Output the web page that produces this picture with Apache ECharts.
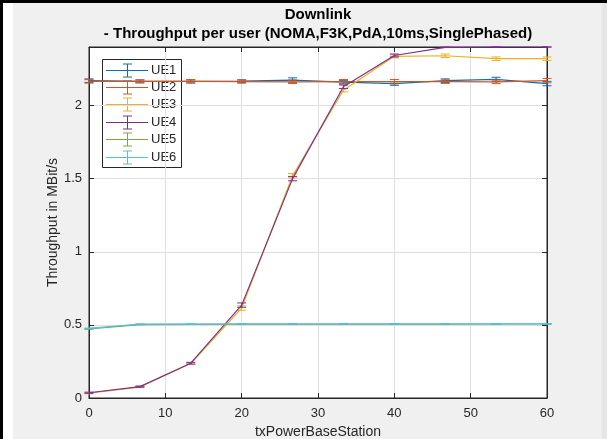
<!DOCTYPE html>
<html>
<head>
<meta charset="utf-8">
<script src="https://cdn.jsdelivr.net/npm/echarts@6/dist/echarts.min.js"></script>
<style>
  html, body { margin: 0; padding: 0; background: #ffffff; }
  #chart { width: 607px; height: 439px; }
</style>
</head>
<body>
<div id="chart"></div>
<script>
// Transmit power of the base station (x axis samples)
const txPower = [0, 6.667, 13.333, 20, 26.667, 33.333, 40, 46.667, 53.333, 60];

// Mean downlink throughput per user in MBit/s
const ue1 = [2.170, 2.165, 2.165, 2.166, 2.174, 2.160, 2.150, 2.170, 2.178, 2.150];
const ue2 = [2.165, 2.165, 2.165, 2.163, 2.162, 2.163, 2.163, 2.163, 2.162, 2.170];
const ue3 = [0.033, 0.075, 0.236, 0.615, 1.520, 2.105, 2.336, 2.340, 2.320, 2.320];
const ue4 = [0.036, 0.078, 0.238, 0.635, 1.500, 2.128, 2.342, 2.398, 2.400, 2.400];
const ue5 = [0.472, 0.502, 0.504, 0.505, 0.505, 0.505, 0.505, 0.505, 0.506, 0.506];
const ue6 = [0.476, 0.505, 0.505, 0.506, 0.506, 0.506, 0.506, 0.506, 0.507, 0.507];

// Half-width of the confidence interval drawn as error bars
const ue1Err = [0.012, 0.010, 0.010, 0.010, 0.015, 0.012, 0.012, 0.012, 0.015, 0.015];
const ue2Err = [0.012, 0.010, 0.012, 0.010, 0.012, 0.015, 0.015, 0.012, 0.012, 0.015];
const ue3Err = [0.004, 0.004, 0.006, 0.015, 0.015, 0.012, 0.010, 0.012, 0.012, 0.012];
const ue4Err = [0.004, 0.004, 0.006, 0.015, 0.015, 0.012, 0.010, 0.002, 0.000, 0.000];
const ue5Err = [0.002, 0.001, 0.001, 0.001, 0.001, 0.001, 0.001, 0.001, 0.001, 0.001];
const ue6Err = [0.002, 0.001, 0.001, 0.001, 0.001, 0.001, 0.001, 0.001, 0.001, 0.001];

const userNames = ['UE1', 'UE2', 'UE3', 'UE4', 'UE5', 'UE6'];
const userValues = [ue1, ue2, ue3, ue4, ue5, ue6];
const userErrors = [ue1Err, ue2Err, ue3Err, ue4Err, ue5Err, ue6Err];
const userColors = ['#0072BD', '#D95319', '#EDB120', '#7E2F8E', '#77AC30', '#4DBEEE'];

const titleLines = ['Downlink', '- Throughput per user (NOMA,F3K,PdA,10ms,SinglePhased)'];
const xAxisTitle = 'txPowerBaseStation';
const yAxisTitle = 'Throughput in MBit/s';

const FONT = '"Liberation Sans", Arial, Helvetica, sans-serif';
const AXIS_COLOR = '#262626';
const GRID_COLOR = '#dfdfdf';

const plot = { left: 89, right: 547, top: 47, bottom: 398 };

// Vertical error bar with caps at both ends
function errorBarRenderer(color) {
  return function (params, api) {
    const x = api.value(0);
    const lo = api.coord([x, api.value(1)]);
    const hi = api.coord([x, api.value(2)]);
    const cap = 4.5;
    const style = { stroke: color, lineWidth: 1 };
    return {
      type: 'group',
      children: [
        { type: 'line', shape: { x1: lo[0], y1: lo[1], x2: hi[0], y2: hi[1] }, style },
        { type: 'line', shape: { x1: lo[0] - cap, y1: lo[1], x2: lo[0] + cap, y2: lo[1] }, style },
        { type: 'line', shape: { x1: hi[0] - cap, y1: hi[1], x2: hi[0] + cap, y2: hi[1] }, style }
      ]
    };
  };
}

const series = [];
userNames.forEach((name, k) => {
  const vals = userValues[k];
  const errs = userErrors[k];
  series.push({
    name: name,
    type: 'line',
    data: txPower.map((x, i) => [x, vals[i]]),
    showSymbol: false,
    symbol: 'none',
    lineStyle: { color: userColors[k], width: 1.2 },
    itemStyle: { color: userColors[k] },
    animation: false,
    silent: true,
    z: 2 + k * 0.01
  });
  series.push({
    name: name,
    type: 'custom',
    data: txPower.map((x, i) => [x, vals[i] - errs[i], vals[i] + errs[i]]),
    encode: { x: 0, y: [1, 2] },
    renderItem: errorBarRenderer(userColors[k]),
    animation: false,
    silent: true,
    z: 2 + k * 0.01
  });
});

// Legend drawn as a boxed list of line + error-bar samples
const legendBox = { x: 102, y: 59, w: 79, h: 108, rowTop: 69.5, rowStep: 17.4 };
const legendChildren = [{
  type: 'rect',
  shape: { x: legendBox.x + 0.5, y: legendBox.y + 0.5, width: legendBox.w, height: legendBox.h },
  style: { fill: '#ffffff', stroke: AXIS_COLOR, lineWidth: 1 }
}];
userNames.forEach((name, k) => {
  const cy = Math.round(legendBox.rowTop + k * legendBox.rowStep) + 0.5;
  const c = userColors[k];
  const st = { stroke: c, lineWidth: 1 };
  legendChildren.push(
    { type: 'line', shape: { x1: 106, y1: cy, x2: 148, y2: cy }, style: st },
    { type: 'line', shape: { x1: 127.5, y1: cy - 6.5, x2: 127.5, y2: cy + 6.5 }, style: st },
    { type: 'line', shape: { x1: 123, y1: cy - 6.5, x2: 132, y2: cy - 6.5 }, style: st },
    { type: 'line', shape: { x1: 123, y1: cy + 6.5, x2: 132, y2: cy + 6.5 }, style: st },
    {
      type: 'text', x: 151, y: cy,
      style: { text: name, font: '13px ' + FONT, fill: AXIS_COLOR, textVerticalAlign: 'middle', textAlign: 'left' }
    }
  );
});

const titleChildren = titleLines.map((t, i) => ({
  type: 'text', x: (plot.left + plot.right) / 2, y: 15 + i * 19,
  style: { text: t, font: 'bold 15px ' + FONT, fill: '#000000', textAlign: 'center', textVerticalAlign: 'middle' }
}));

const frameChildren = [
  { type: 'rect', shape: { x: 0, y: 0, width: 607, height: 3 }, style: { fill: '#000000' } },
  { type: 'rect', shape: { x: 0, y: 0, width: 3, height: 439 }, style: { fill: '#000000' } },
  { type: 'rect', shape: { x: 3, y: 3, width: 10, height: 436 }, style: { fill: '#ffffff' } },
  { type: 'rect', shape: { x: 602, y: 3, width: 5, height: 436 }, style: { fill: '#e6e6e6' } }
];

const axisLabelStyle = { color: AXIS_COLOR, fontSize: 13, fontFamily: FONT };

const chart = echarts.init(document.getElementById('chart'), null, { renderer: 'canvas' });
chart.setOption({
  animation: false,
  backgroundColor: '#f0f0f0',
  grid: {
    left: plot.left, top: plot.top, right: 607 - plot.right, bottom: 439 - plot.bottom,
    show: true, backgroundColor: '#ffffff', borderColor: AXIS_COLOR, borderWidth: 1,
    containLabel: false, outerBoundsMode: 'none'
  },
  xAxis: [{
    type: 'value', min: 0, max: 60, interval: 10, position: 'bottom',
    name: xAxisTitle, nameLocation: 'middle', nameGap: 27, nameMoveOverlap: false,
    nameTextStyle: { color: AXIS_COLOR, fontSize: 14, fontFamily: FONT },
    axisLine: { show: true, onZero: false, lineStyle: { color: AXIS_COLOR, width: 1 } },
    axisTick: { show: true, inside: true, length: 5, lineStyle: { color: AXIS_COLOR } },
    axisLabel: Object.assign({ margin: 9 }, axisLabelStyle),
    splitLine: { show: true, lineStyle: { color: GRID_COLOR, width: 1 } }
  }, {
    type: 'value', min: 0, max: 60, interval: 10, position: 'top',
    axisLine: { show: true, onZero: false, lineStyle: { color: AXIS_COLOR, width: 1 } },
    axisTick: { show: true, inside: true, length: 5, lineStyle: { color: AXIS_COLOR } },
    axisLabel: { show: false }, splitLine: { show: false }
  }],
  yAxis: [{
    type: 'value', min: 0, max: 2.4, interval: 0.5, position: 'left',
    name: yAxisTitle, nameLocation: 'middle', nameGap: 29, nameMoveOverlap: false,
    nameTextStyle: { color: AXIS_COLOR, fontSize: 14, fontFamily: FONT },
    axisLine: { show: true, onZero: false, lineStyle: { color: AXIS_COLOR, width: 1 } },
    axisTick: { show: true, inside: true, length: 5, lineStyle: { color: AXIS_COLOR } },
    axisLabel: Object.assign({ margin: 7, showMaxLabel: false }, axisLabelStyle),
    splitLine: { show: true, lineStyle: { color: GRID_COLOR, width: 1 } }
  }, {
    type: 'value', min: 0, max: 2.4, interval: 0.5, position: 'right',
    axisLine: { show: true, onZero: false, lineStyle: { color: AXIS_COLOR, width: 1 } },
    axisTick: { show: true, inside: true, length: 5, lineStyle: { color: AXIS_COLOR } },
    axisLabel: { show: false }, splitLine: { show: false }
  }],
  graphic: [
    { type: 'group', children: frameChildren, z: 0 },
    { type: 'group', children: titleChildren, z: 10 },
    { type: 'group', children: legendChildren, z: 100 }
  ],
  series: series
});
</script>
</body>
</html>
